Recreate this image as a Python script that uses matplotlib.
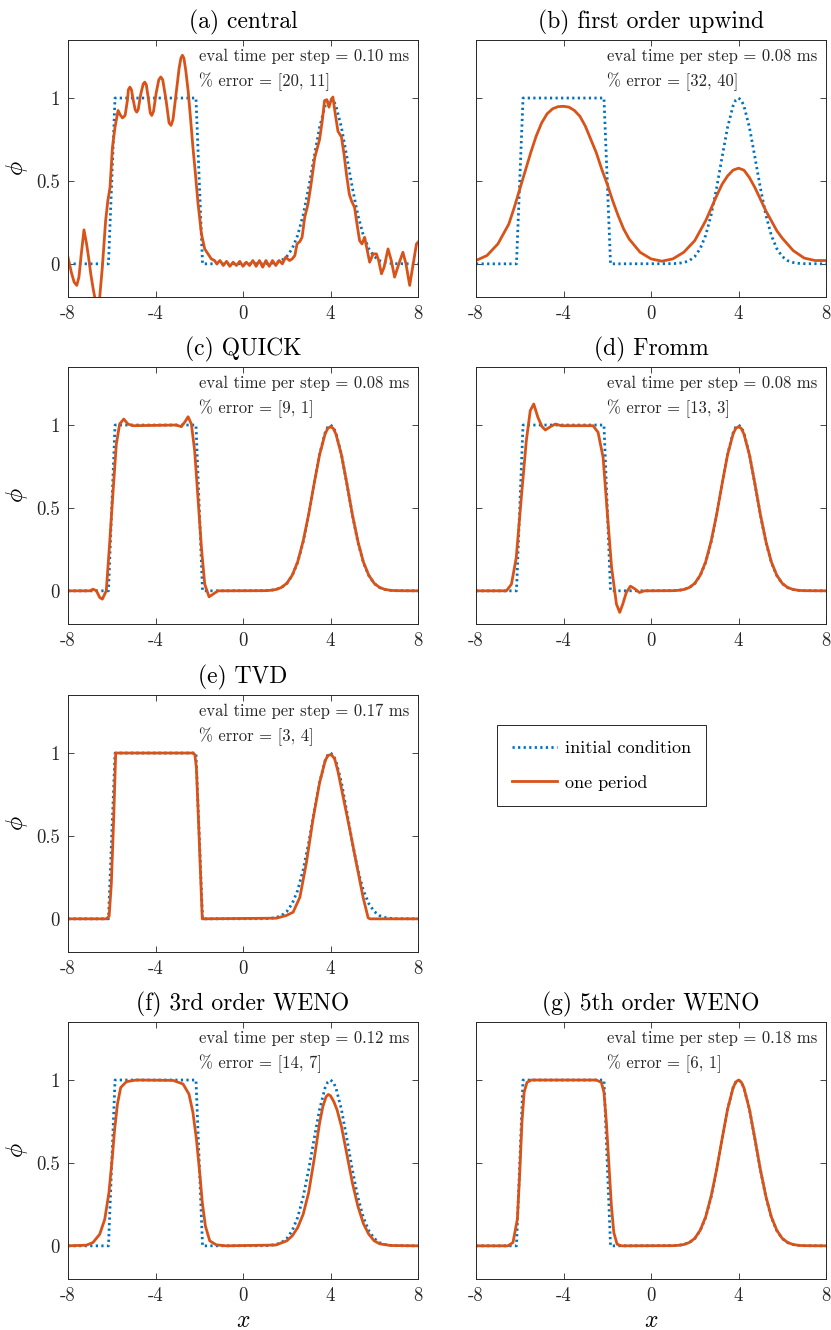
import matplotlib
matplotlib.use('Agg')
import matplotlib.pyplot as plt
from matplotlib.lines import Line2D

plt.rcParams['font.family'] = 'serif'
plt.rcParams['font.serif'] = ['cmr10']
plt.rcParams['mathtext.fontset'] = 'cm'
plt.rcParams['axes.unicode_minus'] = False

BLUE = '#0072BD'
ORANGE = '#D95319'

# initial condition (square + gaussian)
x_init = [-8, -6.15, -5.85, -2.15, -1.85, 1.0, 1.25, 1.5, 1.75, 2.0, 2.25, 2.5, 2.75, 3.0,
          3.25, 3.5, 3.75, 3.875, 4.0, 4.125, 4.25, 4.5, 4.75, 5.0, 5.25, 5.5, 5.75, 6.0,
          6.25, 6.5, 6.75, 7.0, 8.0]
y_init = [0, 0, 1, 1, 0, 0.001, 0.003, 0.008, 0.019, 0.044, 0.092, 0.172, 0.295, 0.458,
          0.644, 0.823, 0.952, 0.988, 1.0, 0.988, 0.952, 0.823, 0.644, 0.458, 0.295, 0.172,
          0.092, 0.044, 0.019, 0.008, 0.003, 0.001, 0]

# (a) central
x_central = [-8.0, -7.85, -7.72, -7.6, -7.5, -7.4, -7.27, -7.15, -7.05, -6.96, -6.85, -6.75,
             -6.65, -6.55, -6.43, -6.28, -6.18, -6.08, -5.97, -5.85, -5.71, -5.62, -5.51,
             -5.39, -5.28, -5.24, -5.17, -5.1, -5.02, -4.93, -4.86, -4.79, -4.68, -4.56,
             -4.49, -4.42, -4.33, -4.24, -4.17, -4.09, -3.97, -3.85, -3.76, -3.67, -3.52,
             -3.38, -3.29, -3.2, -3.1, -2.92, -2.84, -2.77, -2.7, -2.62, -2.51, -2.4, -2.29,
             -2.18, -2.06,
             -1.9, -1.75, -1.6, -1.45, -1.3, -1.2, -1.05, -0.9, -0.75, -0.6, -0.45, -0.3,
             -0.15, 0.0, 0.15, 0.3, 0.45, 0.6, 0.75, 0.9, 1.05, 1.2, 1.35, 1.5, 1.65, 1.8,
             1.95, 2.13, 2.25, 2.37, 2.47, 2.6, 2.7, 2.82, 2.97, 3.1, 3.28, 3.5, 3.62,
             3.73, 3.83, 3.93, 4.02, 4.11, 4.2, 4.34, 4.5, 4.62, 4.73, 4.86, 4.96, 5.1,
             5.2, 5.33, 5.44, 5.56, 5.68, 5.79, 5.95, 6.1, 6.2, 6.33, 6.45, 6.63, 6.78,
             6.93, 7.1, 7.31, 7.45, 7.62, 7.78, 7.93, 8.0]
y_central = [0.04, -0.05, -0.11, -0.13, -0.08, 0.05, 0.205, 0.12, 0.03, -0.06, -0.15, -0.22,
             -0.25, -0.2, -0.02, 0.26, 0.38, 0.46, 0.70, 0.825, 0.925, 0.9, 0.88,
             0.895, 0.99, 1.05, 1.066, 1.05, 0.99, 0.93, 0.915, 0.93, 1.02, 1.085,
             1.096, 1.08, 1.0, 0.91, 0.895, 0.92, 1.03, 1.11, 1.127, 1.11, 0.99,
             0.85, 0.835, 0.87, 0.98, 1.18, 1.24, 1.258, 1.24, 1.17, 1.046, 0.88, 0.704,
             0.55, 0.37,
             0.18, 0.09, 0.06, 0.03, 0.02, 0.0, 0.02, -0.01, 0.015, -0.015, 0.01, -0.01,
             0.015, -0.015, 0.01, -0.01, 0.02, -0.015, 0.02, -0.02, 0.02, -0.015, 0.02, -0.01,
             0.02, 0.0, 0.04, 0.02, 0.03, 0.05, 0.12, 0.135, 0.16, 0.28, 0.36, 0.47, 0.64,
             0.75, 0.86, 0.985, 0.99, 0.945, 0.985, 1.006, 0.92, 0.80, 0.765, 0.66,
             0.54, 0.42, 0.38, 0.34, 0.25, 0.14, 0.12, 0.16, 0.08, 0.01, 0.06, 0.06, 0.02,
             -0.06, -0.02, 0.09, 0.02, -0.08, -0.01, 0.07, 0.0, -0.13, 0.0, 0.12, 0.13]

# (b) first order upwind
x_upwind = [-8, -7.5, -7, -6.5, -6.25, -6, -5.75, -5.5, -5.25, -5, -4.75, -4.5, -4.25, -4,
            -3.75, -3.5, -3.25, -3, -2.75, -2.5, -2.25, -2, -1.75, -1.5, -1.25, -1, -0.5, 0,
            0.5, 1, 1.5, 2, 2.25, 2.5, 2.75, 3, 3.25, 3.5, 3.75, 4, 4.25, 4.5, 4.75, 5,
            5.25, 5.5, 5.75, 6, 6.5, 7, 7.5, 8]
y_upwind = [0.02, 0.05, 0.12, 0.24, 0.34, 0.45, 0.56, 0.67, 0.77, 0.85, 0.905, 0.935, 0.948,
            0.95, 0.945, 0.925, 0.89, 0.83, 0.75, 0.67, 0.57, 0.48, 0.38, 0.29, 0.21, 0.15,
            0.07, 0.03, 0.016, 0.03, 0.07, 0.14, 0.2, 0.26, 0.335, 0.41, 0.48, 0.53, 0.565,
            0.577, 0.565, 0.52, 0.46, 0.39, 0.32, 0.26, 0.2, 0.155, 0.08, 0.035, 0.02, 0.02]

# (c) QUICK
x_quick = [-8, -7.0, -6.86, -6.7, -6.55, -6.43, -6.25, -6.1, -5.94, -5.79, -5.64, -5.45,
           -5.26, -5.03, -3.05, -2.82, -2.65, -2.51, -2.36, -2.21, -2.06, -1.9, -1.75,
           -1.55, -1.37, -1.14, 1.0, 1.25, 1.5, 1.75, 2.0, 2.25, 2.5, 2.75, 3.0, 3.25, 3.5,
           3.75, 3.875, 4.0, 4.125, 4.25, 4.5, 4.75, 5.0, 5.25, 5.5, 5.75, 6.0, 6.25, 6.5,
           6.75, 7.0, 8.0]
y_quick = [0, 0, 0.01, 0.0, -0.04, -0.05, 0.0, 0.28, 0.60, 0.885, 1.006, 1.036,
           1.006, 0.996, 1.0, 0.99, 1.02, 1.05, 1.006, 0.845, 0.563, 0.26, 0.04,
           -0.036, -0.02, 0.0, 0.001, 0.003, 0.008, 0.02, 0.045, 0.094, 0.175, 0.30, 0.46,
           0.645, 0.82, 0.945, 0.98, 0.99, 0.98, 0.945, 0.82, 0.645, 0.46, 0.30, 0.175,
           0.094, 0.045, 0.02, 0.008, 0.003, 0.001, 0]

# (d) Fromm
x_fromm = [-8, -6.61, -6.38, -6.16, -5.93, -5.7, -5.52, -5.36, -5.17, -4.98, -4.83, -4.6,
           -4.37, -4.1, -2.65, -2.42, -2.19, -1.98, -1.8, -1.58, -1.43, -1.29, -1.13, -0.94,
           -0.76, -0.53, -0.3, 1.0, 1.25, 1.5, 1.75, 2.0, 2.25, 2.5, 2.75, 3.0, 3.25, 3.5,
           3.75, 3.875, 4.0, 4.125, 4.25, 4.5, 4.75, 5.0, 5.25, 5.5, 5.75, 6.0, 6.25, 6.5,
           6.75, 7.0, 8.0]
y_fromm = [0, 0, 0.04, 0.2, 0.56, 0.905, 1.087, 1.127, 1.046, 0.99, 0.97, 0.99,
           1.006, 0.996, 0.996, 0.956, 0.805, 0.44, 0.14, -0.08, -0.13, -0.08, -0.01, 0.028,
           0.014, -0.01, 0.0, 0.001, 0.003, 0.008, 0.02, 0.045, 0.094, 0.175, 0.30, 0.46,
           0.645, 0.82, 0.945, 0.98, 0.99, 0.98, 0.945, 0.82, 0.645, 0.46, 0.30, 0.175,
           0.094, 0.045, 0.02, 0.008, 0.003, 0.001, 0]

# (e) TVD
x_tvd = [-8, -6.25, -6.12, -6.02, -5.91, -5.82, -2.28, -2.2, -2.13, -2.01, -1.9, -1.86,
         1.53, 1.98, 2.29, 2.6, 2.9, 3.2, 3.5, 3.76, 3.89, 4.04, 4.19, 4.34, 4.57, 4.88,
         5.19, 5.49, 5.72, 5.8, 8.0]
y_tvd = [0, 0, 0.016, 0.21, 0.61, 1.0, 1.0, 0.99, 0.91, 0.51, 0.13, 0.0,
         0.004, 0.02, 0.04, 0.13, 0.34, 0.60, 0.82, 0.955, 0.986, 0.99, 0.965, 0.89, 0.74,
         0.54, 0.33, 0.13, 0.006, 0.0, 0.0]

# (f) 3rd order WENO
x_weno3 = [-8, -7.16, -6.86, -6.55, -6.32, -6.13, -5.97, -5.87, -5.74, -5.59, -5.33, -4.88,
           -3.2, -2.74, -2.47, -2.29, -2.13, -1.98, -1.86, -1.72, -1.52, -1.22, -0.76,
           1.5, 2.0, 2.25, 2.5, 2.75, 3.0, 3.25, 3.5, 3.65, 3.8, 3.9, 4.0, 4.15, 4.3, 4.5,
           4.75, 5.0, 5.25, 5.5, 5.75, 6.0, 6.25, 6.75, 8.0]
y_weno3 = [0, 0.004, 0.02, 0.07, 0.16, 0.32, 0.54, 0.70, 0.855, 0.955, 0.99, 1.0,
           0.998, 0.976, 0.915, 0.805, 0.644, 0.443, 0.26, 0.12, 0.03, 0.006, 0.0,
           0.005, 0.03, 0.06, 0.11, 0.19, 0.32, 0.52, 0.74, 0.84, 0.9, 0.913, 0.905, 0.87,
           0.82, 0.72, 0.55, 0.38, 0.24, 0.135, 0.07, 0.03, 0.012, 0.002, 0.0]

# (g) 5th order WENO
x_weno5 = [-8, -6.54, -6.31, -6.11, -6.0, -5.9, -5.8, -5.67, -5.47, -2.5, -2.27, -2.15,
           -2.04, -1.93, -1.81, -1.7, -1.55, -1.35, 1.0, 1.25, 1.5, 1.75, 2.0, 2.25, 2.5,
           2.75, 3.0, 3.25, 3.5, 3.75, 3.875, 4.0, 4.125, 4.25, 4.5, 4.75, 5.0, 5.25, 5.5,
           5.75, 6.0, 6.25, 6.5, 6.75, 7.0, 8.0]
y_weno5 = [0, 0, 0.02, 0.16, 0.44, 0.745, 0.926, 0.986, 1.0, 1.0, 0.986, 0.926,
           0.745, 0.503, 0.24, 0.08, 0.01, 0.0, 0.001, 0.003, 0.008, 0.02, 0.045, 0.094, 0.175,
           0.30, 0.46, 0.645, 0.823, 0.952, 0.988, 1.0, 0.988, 0.952, 0.823, 0.645, 0.46,
           0.30, 0.175, 0.094, 0.045, 0.02, 0.008, 0.003, 0.001, 0]

titles = ['(a) central', '(b) first order upwind', '(c) QUICK', '(d) Fromm', '(e) TVD',
          '(f) 3rd order WENO', '(g) 5th order WENO']
eval_times = ['0.10', '0.08', '0.08', '0.08', '0.17', '0.12', '0.18']
errors = ['[20, 11]', '[32, 40]', '[9, 1]', '[13, 3]', '[3, 4]', '[14, 7]', '[6, 1]']
curves = [(x_central, y_central), (x_upwind, y_upwind), (x_quick, y_quick),
          (x_fromm, y_fromm), (x_tvd, y_tvd), (x_weno3, y_weno3), (x_weno5, y_weno5)]
# grid cell (row, col) of each panel
cells = [(0, 0), (0, 1), (1, 0), (1, 1), (2, 0), (3, 0), (3, 1)]

W, H = 831, 1330
fig = plt.figure(figsize=(W / 100, H / 100), dpi=100)
col_left = [68, 476]
row_top = [40, 367, 695, 1022]
ax_w, ax_h = 350, 257

for i, (r, c) in enumerate(cells):
    ax = fig.add_axes([col_left[c] / W, 1 - (row_top[r] + ax_h) / H, ax_w / W, ax_h / H])
    xs, ys = curves[i]
    ax.plot(x_init, y_init, color=BLUE, lw=2.0, linestyle=(0, (0.8, 1.2)))
    ax.plot(xs, ys, color=ORANGE, lw=2.0)
    ax.set_xlim(-8, 8)
    ax.set_ylim(-0.2, 1.35)
    ax.set_xticks([-8, -4, 0, 4, 8])
    ax.set_xticklabels(['-8', '-4', '0', '4', '8'])
    ax.set_yticks([0, 0.5, 1])
    if c == 0:
        ax.set_yticklabels(['0', '0.5', '1'])
        ax.set_ylabel(r'$\phi$', fontsize=17, labelpad=4)
    else:
        ax.set_yticklabels([])
    if r == 3:
        ax.set_xlabel(r'$x$', fontsize=17, labelpad=3)
    ax.tick_params(direction='in', top=True, right=True, length=4, width=0.6,
                   labelsize=13.5, colors='#262626', labelcolor='#262626', pad=6)
    for s in ax.spines.values():
        s.set_color('#262626')
        s.set_linewidth(0.7)
    ax.set_title(titles[i], fontsize=17, pad=8)
    ax.text(0.375, 0.935, 'eval time per step = ' + eval_times[i] + ' ms',
            transform=ax.transAxes, fontsize=12, va='center', ha='left', color='#262626')
    ax.text(0.375, 0.838, '% error = ' + errors[i],
            transform=ax.transAxes, fontsize=12, va='center', ha='left', color='#262626')

handles = [Line2D([], [], color=BLUE, lw=2.0, linestyle=(0, (0.8, 1.2))),
           Line2D([], [], color=ORANGE, lw=2.0)]
leg = fig.legend(handles, ['initial condition', 'one period'], loc='upper left',
                 bbox_to_anchor=(497 / W, 1 - 725 / H), borderaxespad=0, fontsize=13,
                 fancybox=False, framealpha=1, edgecolor='#262626', handlelength=2.5,
                 labelspacing=1.05, borderpad=0.85, handletextpad=0.4)
leg.get_frame().set_linewidth(0.7)

fig.savefig('out.png', dpi=100)
